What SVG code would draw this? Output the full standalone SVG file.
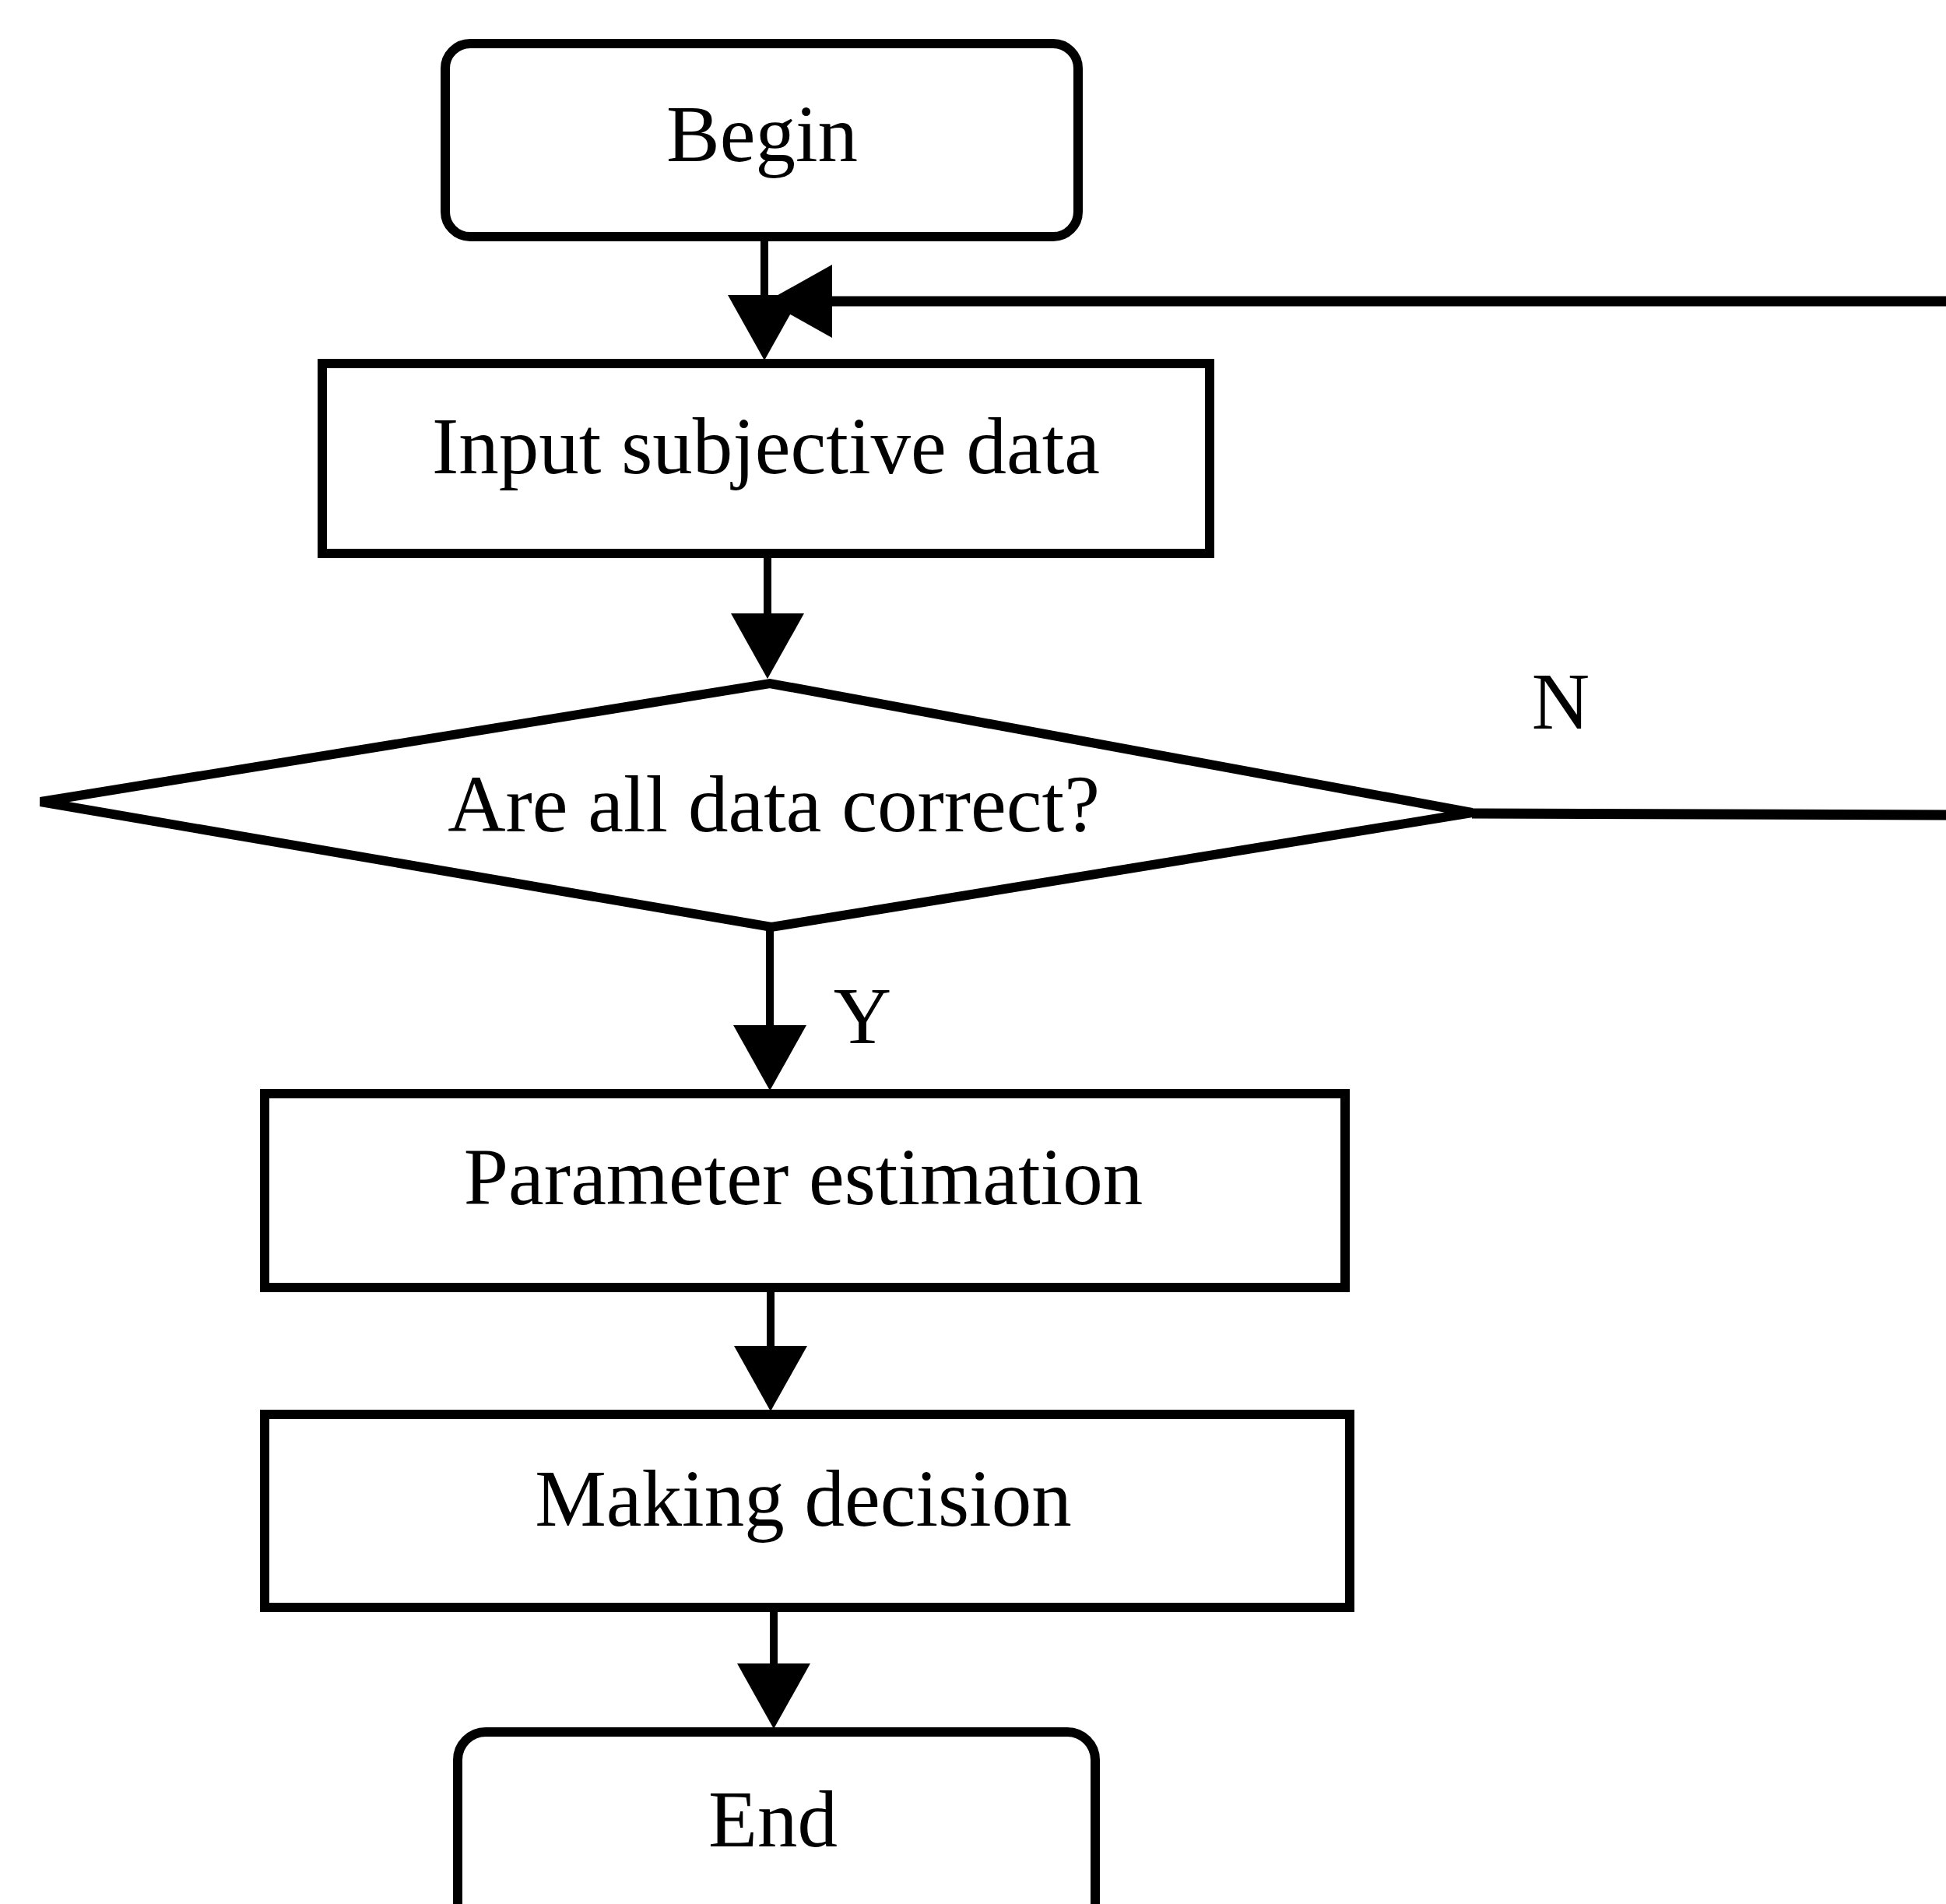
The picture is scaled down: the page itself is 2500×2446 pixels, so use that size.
<svg xmlns="http://www.w3.org/2000/svg" xmlns:xlink="http://www.w3.org/1999/xlink" width="2500" height="2446" viewBox="0 0 2500 2446">
<style>
.box{fill:#fff;stroke:#000;stroke-width:12}
.ln{fill:none;stroke:#000;stroke-width:10}
.lp{fill:none;stroke:#000;stroke-width:13}
.ah{fill:#000;stroke:none}
.t{font-family:"Liberation Serif","Times New Roman",serif;font-size:103px;fill:#000;text-anchor:middle}
</style>
<defs>
<polygon id="ahd" points="-47,0 47,0 0,84"/>
</defs>
<rect width="2500" height="2446" fill="#fff"/>
<g id="connectors">
<line class="ln" x1="982" y1="305" x2="982" y2="384"/>
<use xlink:href="#ahd" class="ah" x="982" y="379"/>
<polyline class="lp" points="1891,1045 2500,1047"/>
<line class="lp" x1="2500" y1="387" x2="1064" y2="387"/>
<use xlink:href="#ahd" class="ah" transform="translate(987,387) rotate(90) translate(0,-82)"/>
<line class="ln" x1="986" y1="711" x2="986" y2="790"/>
<use xlink:href="#ahd" class="ah" x="986" y="788"/>
<line class="ln" x1="989" y1="1190" x2="989" y2="1320"/>
<use xlink:href="#ahd" class="ah" x="989" y="1317"/>
<line class="ln" x1="990" y1="1654" x2="990" y2="1731"/>
<use xlink:href="#ahd" class="ah" x="990" y="1729"/>
<line class="ln" x1="994" y1="2065" x2="994" y2="2141"/>
<use xlink:href="#ahd" class="ah" x="994" y="2137"/>
<text class="t" x="2005" y="936">N</text>
<text class="t" x="1108" y="1340">Y</text>
</g>
<g id="begin">
<rect class="box" x="572" y="56" width="813" height="248" rx="32"/>
<text class="t" x="979" y="207">Begin</text>
</g>
<g id="input">
<rect class="box" x="414" y="467" width="1140" height="244"/>
<text class="t" x="984" y="608">Input subjective data</text>
</g>
<g id="decision">
<polygon class="box" points="52,1030 989,878 1891,1044 991,1191"/>
<text class="t" x="994" y="1068">Are all data correct?</text>
</g>
<g id="param">
<rect class="box" x="340" y="1405" width="1388" height="249"/>
<text class="t" x="1032" y="1547">Parameter estimation</text>
</g>
<g id="making">
<rect class="box" x="340" y="1817" width="1394" height="248"/>
<text class="t" x="1032" y="1960">Making decision</text>
</g>
<g id="end">
<rect class="box" x="588" y="2225" width="819" height="262" rx="36"/>
<text class="t" x="993" y="2372">End</text>
</g>
</svg>
